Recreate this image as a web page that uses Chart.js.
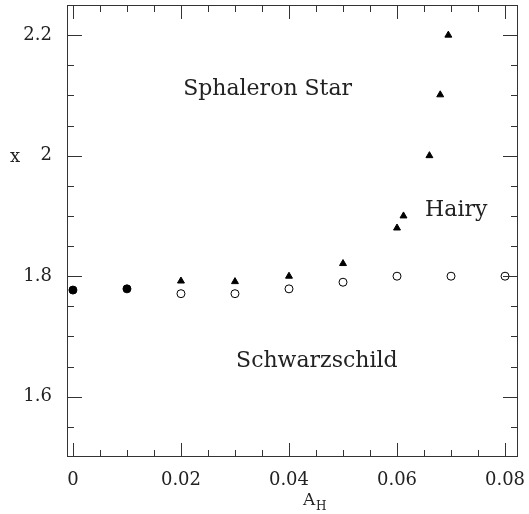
<!DOCTYPE html>
<html>
<head>
<meta charset="utf-8">
<script src="https://cdn.jsdelivr.net/npm/chart.js@4/dist/chart.umd.min.js"></script>
<style>
  html, body { margin: 0; padding: 0; background: #fff; }
  #wrap { width: 529px; height: 514px; }
</style>
</head>
<body>
<div id="wrap"><canvas id="xChart"></canvas></div>
<script>
// values
var schwX = [0, 0.01];
var schwY = [1.777, 1.779];
var openX = [0.02, 0.03, 0.04, 0.05, 0.06, 0.07, 0.08];
var openY = [1.771, 1.771, 1.779, 1.790, 1.800, 1.800, 1.800];
var hairyX = [0.02, 0.03, 0.04, 0.05, 0.06, 0.0612, 0.066, 0.068, 0.0695];
var hairyY = [1.792, 1.791, 1.800, 1.821, 1.880, 1.900, 2.000, 2.101, 2.200];

var xMajor = [0, 0.02, 0.04, 0.06, 0.08];
var yMajor = [1.6, 1.8, 2, 2.2];

// region labels, [text, x, y] in data units (left aligned)
var regionLabels = [
  ['Sphaleron Star', 0.0204, 2.11],
  ['Hairy', 0.0652, 1.909],
  ['Schwarzschild', 0.0302, 1.659]
];

function pts(xs, ys) {
  return xs.map(function (x, i) { return { x: x, y: ys[i] }; });
}

var FONT = '"DejaVu Serif", "Liberation Serif", serif';

// inward ticks on all four sides, frame, axis titles, region names
var framePlugin = {
  id: 'framePlugin',
  afterDatasetsDraw: function (chart) {
    var c = chart.ctx, a = chart.chartArea;
    var xs = chart.scales.x, ys = chart.scales.y;
    c.save();
    c.strokeStyle = '#333';
    c.lineWidth = 1;
    c.strokeRect(a.left + 0.5, a.top + 0.5, a.right - a.left - 1, a.bottom - a.top - 1);

    c.beginPath();
    var v, p, len;
    for (v = 0; v <= 0.0801; v += 0.005) {
      p = Math.round(xs.getPixelForValue(v)) + 0.5;
      len = (Math.round(v * 1000) % 20 === 0) ? 14 : 7;
      c.moveTo(p, a.bottom); c.lineTo(p, a.bottom - len);
      c.moveTo(p, a.top); c.lineTo(p, a.top + len);
    }
    for (v = 1.55; v <= 2.2001; v += 0.05) {
      p = Math.round(ys.getPixelForValue(v)) + 0.5;
      len = (Math.round(v * 100) % 20 === 0) ? 15 : 7;
      c.moveTo(a.left, p); c.lineTo(a.left + len, p);
      c.moveTo(a.right, p); c.lineTo(a.right - len, p);
    }
    c.stroke();

    c.fillStyle = '#222';
    c.textBaseline = 'middle';
    c.textAlign = 'left';
    c.font = '22px ' + FONT;
    regionLabels.forEach(function (r) {
      c.fillText(r[0], xs.getPixelForValue(r[1]), ys.getPixelForValue(r[2]));
    });

    // y title
    c.font = '18px ' + FONT;
    c.textAlign = 'center';
    c.fillText('x', 15, ys.getPixelForValue(2) + 2);

    // x title with subscript
    c.textAlign = 'left';
    c.textBaseline = 'alphabetic';
    c.font = '17px ' + FONT;
    c.fillText('A', 303, 505);
    c.font = '12px ' + FONT;
    c.fillText('H', 316, 510);
    c.restore();
  }
};

function noPad(s) {
  s.paddingTop = 0; s.paddingBottom = 0; s.paddingLeft = 0; s.paddingRight = 0;
}

var ctx = document.getElementById('xChart').getContext('2d');
var chart = new Chart(ctx, {
  type: 'scatter',
  data: {
    datasets: [{
      label: 'Schwarzschild',
      data: pts(schwX, schwY),
      pointStyle: 'circle',
      pointRadius: 4,
      backgroundColor: '#000',
      borderColor: '#000'
    }, {
      label: 'Sphaleron',
      data: pts(openX, openY),
      pointStyle: 'circle',
      pointRadius: 4,
      backgroundColor: '#fff',
      borderColor: '#000',
      borderWidth: 1
    }, {
      label: 'Hairy',
      data: pts(hairyX, hairyY),
      pointStyle: 'triangle',
      pointRadius: 4,
      backgroundColor: '#000',
      borderColor: '#000',
      borderWidth: 1
    }]
  },
  options: {
    responsive: true,
    maintainAspectRatio: false,
    animation: false,
    layout: { padding: { top: 5, right: 11, left: 0, bottom: 0 } },
    plugins: { legend: { display: false }, tooltip: { enabled: false } },
    scales: {
      x: {
        type: 'linear',
        min: -0.0011,
        max: 0.0824,
        grid: { display: false },
        border: { display: false },
        afterBuildTicks: function (s) { s.ticks = xMajor.map(function (v) { return { value: v }; }); },
        afterFit: function (s) { s.height = 57; noPad(s); },
        ticks: {
          padding: 5,
          color: '#222',
          font: { family: FONT, size: 18 },
          maxRotation: 0,
          callback: function (v) { return String(Math.round(v * 100) / 100); }
        }
      },
      y: {
        type: 'linear',
        min: 1.5,
        max: 2.25,
        grid: { display: false },
        border: { display: false },
        afterBuildTicks: function (s) { s.ticks = yMajor.map(function (v) { return { value: v }; }); },
        afterFit: function (s) { s.width = 67; noPad(s); },
        ticks: {
          padding: 7,
          color: '#222',
          font: { family: FONT, size: 18 },
          callback: function (v) { return String(Math.round(v * 10) / 10); }
        }
      }
    }
  },
  plugins: [framePlugin]
});
</script>
</body>
</html>
